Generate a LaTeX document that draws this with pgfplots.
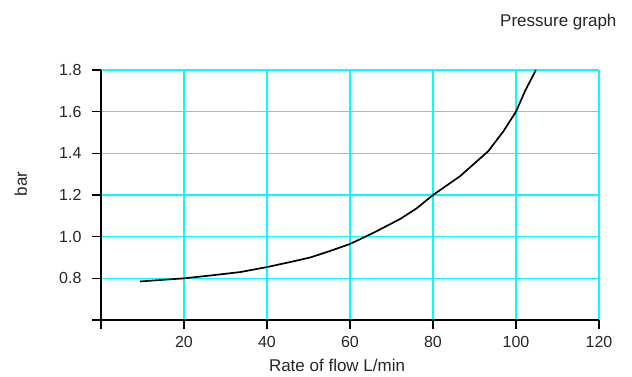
\documentclass[border=0pt]{standalone}
\usepackage{fontspec}
\setmainfont{Liberation Sans}
\usepackage{pgfplots}
\pgfplotsset{compat=1.18}
\definecolor{gridcyan}{RGB}{0,255,255}
\begin{document}
\begin{tikzpicture}[x=1pt,y=1pt]
\path[use as bounding box] (-101,-56) rectangle (531,320);
\begin{axis}[
  at={(0,0)}, anchor=south west,
  scale only axis, width=498pt, height=250pt,
  xmin=0, xmax=120, ymin=0.6, ymax=1.8,
  axis x line=bottom, axis y line=left,
  axis line style={-, black, line width=1.5pt},
  xtick={0,20,40,60,80,100,120},
  xticklabels={,20,40,60,80,100,120},
  ytick={0.6,0.8,1.0,1.2,1.4,1.6,1.8},
  yticklabels={,0.8,1.0,1.2,1.4,1.6,1.8},
  tick align=outside, major tick length=9pt,
  tick style={black, line width=1.2pt},
  grid=major,
  major grid style={gridcyan, line width=1.6pt},
  ticklabel style={font=\fontsize{16}{18}\selectfont, text=black!85},
  xticklabel style={yshift=-4pt},
  yticklabel style={xshift=-7pt},
  xlabel={Rate of flow L/min},
  ylabel={bar},
  label style={font=\fontsize{17}{19}\selectfont, text=black!85},
  xlabel style={at={(axis description cs:0.474,-0.18)}, anchor=center},
  ylabel style={at={(axis description cs:-0.161,0.544)}, anchor=center, rotate=0},
  clip=false,
]
\addplot[black, line width=1.7pt] coordinates {
(9.4,0.785) (15,0.793) (20,0.800) (27,0.815) (33.5,0.830) (40,0.854)
(46,0.880) (50.4,0.900) (55,0.930) (60,0.965) (65.5,1.017) (72,1.084)
(76,1.135) (80,1.200) (86.5,1.290) (93.3,1.410) (96.9,1.504)
(100,1.600) (102.2,1.700) (104.8,1.800)
};
\end{axis}
\node[anchor=base east, font=\fontsize{17}{19}\selectfont, text=black!85] at (519,294) {Pressure graph};
\end{tikzpicture}
\end{document}
